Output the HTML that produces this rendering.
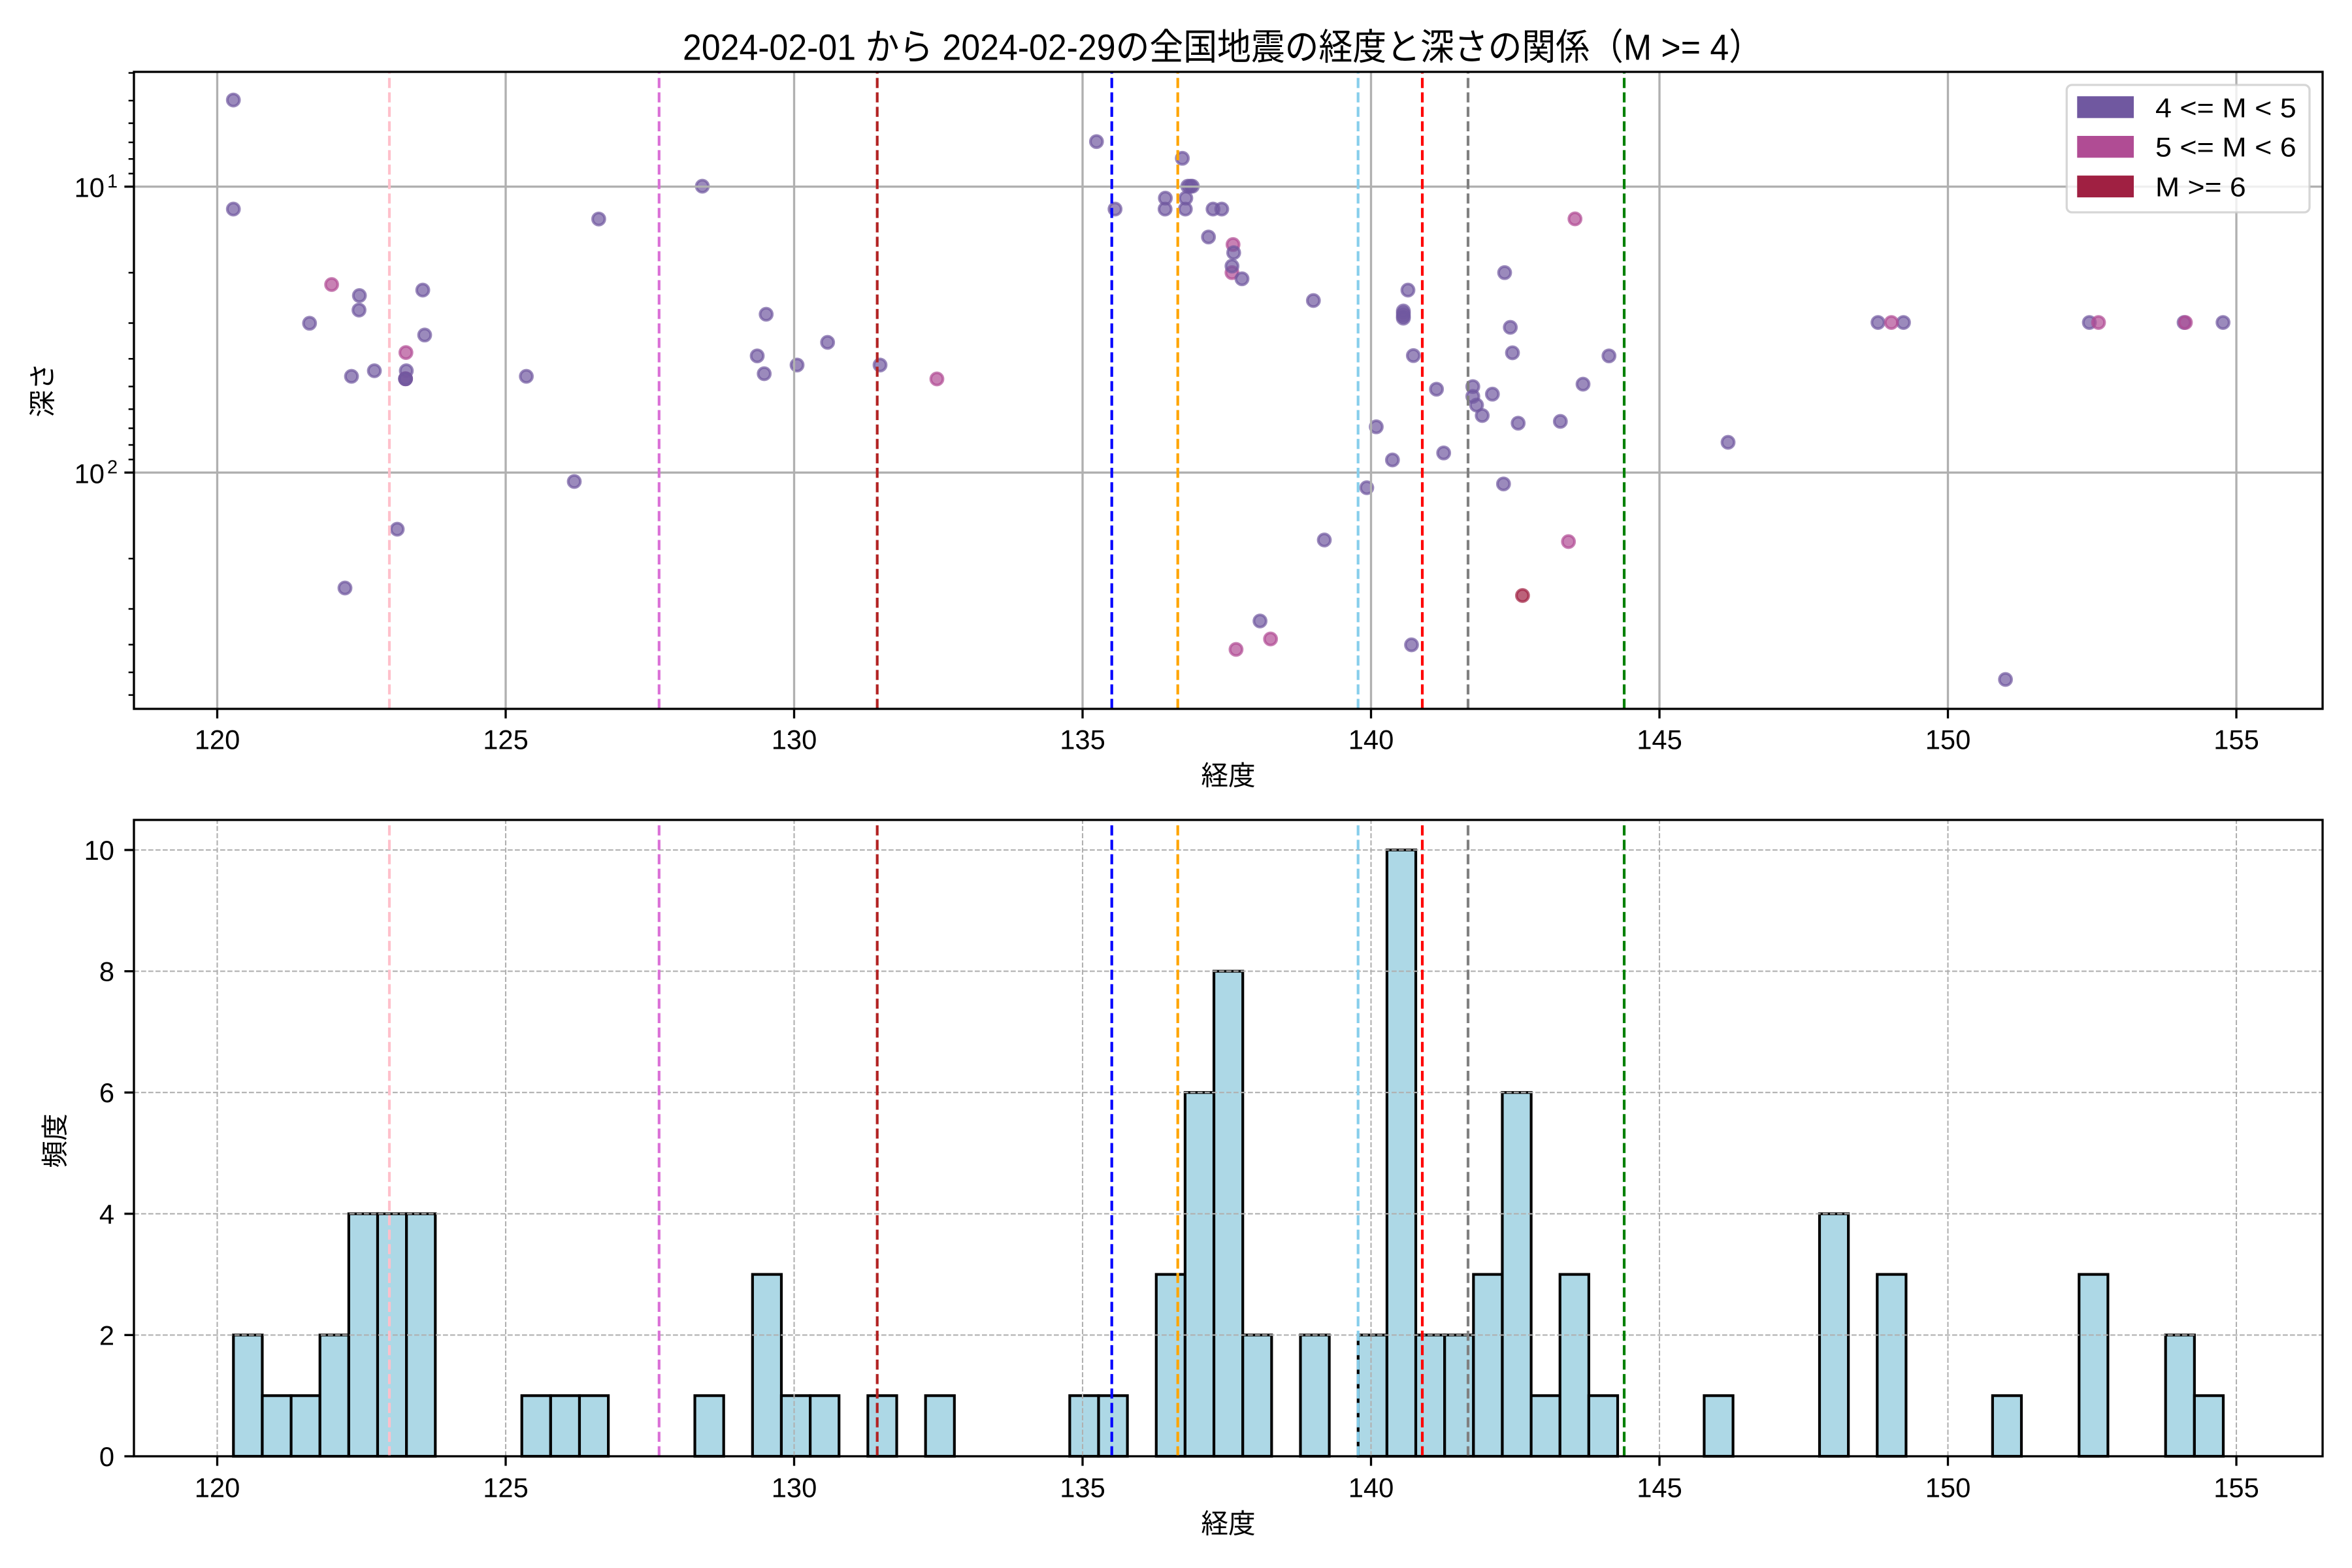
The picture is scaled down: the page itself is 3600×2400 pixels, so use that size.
<!DOCTYPE html>
<html>
<head>
<meta charset="utf-8">
<style>
html,body{margin:0;padding:0;background:#fff;}
svg{display:block;}
text{font-family:"Liberation Sans","Noto Sans CJK JP",sans-serif;fill:#000;}
</style>
</head>
<body>
<svg width="3600" height="2400" viewBox="0 0 3600 2400" xmlns="http://www.w3.org/2000/svg">
<rect x="0" y="0" width="3600" height="2400" fill="#fff"/>

<!-- Title -->
<text x="1045" y="91.7" font-size="56" textLength="1653" lengthAdjust="spacingAndGlyphs">2024-02-01 から 2024-02-29の全国地震の経度と深さの関係（M &gt;= 4）</text>

<!-- ================= TOP AXES ================= -->
<!-- scatter points -->
<g stroke-width="4.17" fill-opacity="0.7" stroke-opacity="0.7">
<g fill="#7058a0" stroke="#7058a0">
<circle cx="357.2" cy="153.1" r="9.3"/>
<circle cx="357.2" cy="320" r="9.3"/>
<circle cx="473.8" cy="494.8" r="9.3"/>
<circle cx="550.1" cy="452.4" r="9.3"/>
<circle cx="549.5" cy="474.6" r="9.3"/>
<circle cx="647.1" cy="444" r="9.3"/>
<circle cx="650" cy="512.8" r="9.3"/>
<circle cx="538" cy="576" r="9.3"/>
<circle cx="573" cy="567.5" r="9.3"/>
<circle cx="621.9" cy="567.5" r="9.3"/>
<circle cx="608" cy="810" r="9.3"/>
<circle cx="528" cy="900" r="9.3"/>
<circle cx="805.6" cy="576" r="9.3"/>
<circle cx="879" cy="737" r="9.3"/>
<circle cx="916.4" cy="335.2" r="9.3"/>
<circle cx="1075" cy="285" r="9.3"/>
<circle cx="1172.7" cy="481" r="9.3"/>
<circle cx="1159" cy="544.7" r="9.3"/>
<circle cx="1169.7" cy="572" r="9.3"/>
<circle cx="1220" cy="558.7" r="9.3"/>
<circle cx="1266.7" cy="524" r="9.3"/>
<circle cx="1347" cy="558.7" r="9.3"/>
</g>
<circle cx="507.6" cy="435.5" r="9.3" fill="#b04c94" stroke="#b04c94"/>
<circle cx="621.3" cy="539.6" r="9.3" fill="#b04c94" stroke="#b04c94"/>
<circle cx="620.7" cy="579.8" r="9.3" fill="#b04c94" stroke="#b04c94"/>
<circle cx="620.7" cy="579.8" r="9.3" fill="#7058a0" stroke="#7058a0"/>
<circle cx="620.7" cy="579.8" r="9.3" fill="#7058a0" stroke="#7058a0"/>
<circle cx="1434" cy="580" r="9.3" fill="#b04c94" stroke="#b04c94"/>

<g fill="#7058a0" stroke="#7058a0">
<circle cx="1678.3" cy="216.7" r="9.3"/>
<circle cx="1706.7" cy="320" r="9.3"/>
<circle cx="1809.7" cy="242.3" r="9.3"/>
<circle cx="1818" cy="285" r="9.3"/>
<circle cx="1822" cy="285" r="9.3"/>
<circle cx="1825" cy="285" r="9.3"/>
<circle cx="1783.7" cy="303.3" r="9.3"/>
<circle cx="1815" cy="303.3" r="9.3"/>
<circle cx="1783.3" cy="320" r="9.3"/>
<circle cx="1814.3" cy="320" r="9.3"/>
<circle cx="1856.7" cy="320" r="9.3"/>
<circle cx="1870" cy="320" r="9.3"/>
<circle cx="1849.7" cy="362.7" r="9.3"/>
</g>
<circle cx="1887.3" cy="374.3" r="9.3" fill="#b04c94" stroke="#b04c94"/>
<circle cx="1885.7" cy="417.3" r="9.3" fill="#b04c94" stroke="#b04c94"/>
<g fill="#7058a0" stroke="#7058a0">
<circle cx="1888.3" cy="386.7" r="9.3"/>
<circle cx="1885.7" cy="407.3" r="9.3"/>
<circle cx="1901" cy="426.7" r="9.3"/>
<circle cx="2010.3" cy="460" r="9.3"/>
<circle cx="2155" cy="444" r="9.3"/>
<circle cx="2148" cy="476" r="9.3"/>
<circle cx="2148" cy="480" r="9.3"/>
<circle cx="2148" cy="484" r="9.3"/>
<circle cx="2148" cy="487" r="9.3"/>
<circle cx="2163.3" cy="544.3" r="9.3"/>
<circle cx="2106.5" cy="653.3" r="9.3"/>
<circle cx="2131.3" cy="704" r="9.3"/>
<circle cx="2092" cy="746.5" r="9.3"/>
<circle cx="2027" cy="826.5" r="9.3"/>
<circle cx="1928.6" cy="950.5" r="9.3"/>
<circle cx="2160.5" cy="987" r="9.3"/>
<circle cx="2303" cy="417.3" r="9.3"/>
<circle cx="2311.7" cy="501" r="9.3"/>
<circle cx="2315" cy="540" r="9.3"/>
<circle cx="2462.7" cy="544.7" r="9.3"/>
<circle cx="2198.7" cy="595.7" r="9.3"/>
<circle cx="2254.3" cy="591.7" r="9.3"/>
<circle cx="2254.3" cy="606.7" r="9.3"/>
<circle cx="2260" cy="620" r="9.3"/>
<circle cx="2268.7" cy="636" r="9.3"/>
<circle cx="2284.3" cy="603.3" r="9.3"/>
<circle cx="2323.7" cy="647.7" r="9.3"/>
<circle cx="2388.3" cy="645" r="9.3"/>
<circle cx="2423" cy="588" r="9.3"/>
<circle cx="2209.7" cy="693.3" r="9.3"/>
<circle cx="2301.3" cy="740.7" r="9.3"/>
<circle cx="2645" cy="677" r="9.3"/>
<circle cx="2874.5" cy="493.6" r="9.3"/>
<circle cx="2913.5" cy="493.6" r="9.3"/>
<circle cx="3069.6" cy="1040" r="9.3"/>
<circle cx="3198" cy="493.6" r="9.3"/>
<circle cx="3343" cy="493.6" r="9.3"/>
<circle cx="3402.6" cy="493.6" r="9.3"/>
</g>
<g fill="#b04c94" stroke="#b04c94">
<circle cx="1891.9" cy="994" r="9.3"/>
<circle cx="1944.7" cy="978" r="9.3"/>
<circle cx="2400.7" cy="829" r="9.3"/>
<circle cx="2410.7" cy="335" r="9.3"/>
<circle cx="2895" cy="493.6" r="9.3"/>
<circle cx="3212" cy="493.6" r="9.3"/>
<circle cx="3345" cy="493.6" r="9.3"/>
</g>
<circle cx="2330.4" cy="911.5" r="9.3" fill="#a02042" stroke="#a02042"/>
</g>

<!-- top grid -->
<g stroke="#b0b0b0" stroke-width="3.33">
<line x1="332.5" y1="110" x2="332.5" y2="1085"/>
<line x1="774" y1="110" x2="774" y2="1085"/>
<line x1="1215.5" y1="110" x2="1215.5" y2="1085"/>
<line x1="1657" y1="110" x2="1657" y2="1085"/>
<line x1="2098.5" y1="110" x2="2098.5" y2="1085"/>
<line x1="2540" y1="110" x2="2540" y2="1085"/>
<line x1="2981.5" y1="110" x2="2981.5" y2="1085"/>
<line x1="3423" y1="110" x2="3423" y2="1085"/>
<line x1="205" y1="285.7" x2="3555" y2="285.7"/>
<line x1="205" y1="723.3" x2="3555" y2="723.3"/>
</g>

<!-- top axvlines -->
<g stroke-width="4.17" stroke-dasharray="15.4 6.7">
<line x1="596" y1="1085" x2="596" y2="110" stroke="#ffc0cb"/>
<line x1="1008.8" y1="1085" x2="1008.8" y2="110" stroke="#da70d6"/>
<line x1="1342.7" y1="1085" x2="1342.7" y2="110" stroke="#b22222"/>
<line x1="1701.7" y1="1085" x2="1701.7" y2="110" stroke="#0000ff"/>
<line x1="1802.7" y1="1085" x2="1802.7" y2="110" stroke="#ffa500"/>
<line x1="2078.7" y1="1085" x2="2078.7" y2="110" stroke="#87ceeb"/>
<line x1="2177" y1="1085" x2="2177" y2="110" stroke="#ff0000"/>
<line x1="2247" y1="1085" x2="2247" y2="110" stroke="#808080"/>
<line x1="2486" y1="1085" x2="2486" y2="110" stroke="#008000"/>
</g>

<!-- top spines -->
<rect x="205" y="110" width="3350" height="975" fill="none" stroke="#000" stroke-width="3.33"/>

<!-- top x ticks -->
<g stroke="#000" stroke-width="3.33">
<line x1="332.5" y1="1085" x2="332.5" y2="1099.6"/>
<line x1="774" y1="1085" x2="774" y2="1099.6"/>
<line x1="1215.5" y1="1085" x2="1215.5" y2="1099.6"/>
<line x1="1657" y1="1085" x2="1657" y2="1099.6"/>
<line x1="2098.5" y1="1085" x2="2098.5" y2="1099.6"/>
<line x1="2540" y1="1085" x2="2540" y2="1099.6"/>
<line x1="2981.5" y1="1085" x2="2981.5" y2="1099.6"/>
<line x1="3423" y1="1085" x2="3423" y2="1099.6"/>
<line x1="205" y1="285.7" x2="190.4" y2="285.7"/>
<line x1="205" y1="723.3" x2="190.4" y2="723.3"/>
</g>
<g stroke="#000" stroke-width="2.5">
<line x1="205" y1="111.6" x2="196.7" y2="111.6"/>
<line x1="205" y1="154" x2="196.7" y2="154"/>
<line x1="205" y1="188.6" x2="196.7" y2="188.6"/>
<line x1="205" y1="217.9" x2="196.7" y2="217.9"/>
<line x1="205" y1="243.3" x2="196.7" y2="243.3"/>
<line x1="205" y1="265.7" x2="196.7" y2="265.7"/>
<line x1="205" y1="417.4" x2="196.7" y2="417.4"/>
<line x1="205" y1="494.5" x2="196.7" y2="494.5"/>
<line x1="205" y1="549.2" x2="196.7" y2="549.2"/>
<line x1="205" y1="591.6" x2="196.7" y2="591.6"/>
<line x1="205" y1="626.3" x2="196.7" y2="626.3"/>
<line x1="205" y1="655.5" x2="196.7" y2="655.5"/>
<line x1="205" y1="681" x2="196.7" y2="681"/>
<line x1="205" y1="703.3" x2="196.7" y2="703.3"/>
<line x1="205" y1="855" x2="196.7" y2="855"/>
<line x1="205" y1="932" x2="196.7" y2="932"/>
<line x1="205" y1="986.7" x2="196.7" y2="986.7"/>
<line x1="205" y1="1029.1" x2="196.7" y2="1029.1"/>
<line x1="205" y1="1063.8" x2="196.7" y2="1063.8"/>
</g>

<!-- top tick labels -->
<g font-size="41.7" text-anchor="middle">
<text x="332.5" y="1146.7">120</text>
<text x="774" y="1146.7">125</text>
<text x="1215.5" y="1146.7">130</text>
<text x="1657" y="1146.7">135</text>
<text x="2098.5" y="1146.7">140</text>
<text x="2540" y="1146.7">145</text>
<text x="2981.5" y="1146.7">150</text>
<text x="3423" y="1146.7">155</text>
</g>
<text x="160" y="301.7" font-size="41.7" text-anchor="end">10</text>
<text x="164" y="287" font-size="29">1</text>
<text x="160" y="739.3" font-size="41.7" text-anchor="end">10</text>
<text x="164" y="724.6" font-size="29">2</text>

<text x="1880" y="1187" font-size="41.7" text-anchor="middle" dominant-baseline="central">経度</text>
<text transform="translate(65,597) rotate(-90)" font-size="41.7" text-anchor="middle" dominant-baseline="central">深さ</text>

<!-- legend -->
<rect x="3163.3" y="130" width="371.7" height="195" rx="8" ry="8" fill="#fff" fill-opacity="0.8" stroke="#cccccc" stroke-opacity="0.8" stroke-width="3.33"/>
<rect x="3179.3" y="147.3" width="86.7" height="33.4" fill="#7058a0"/>
<rect x="3179.3" y="208" width="86.7" height="33.4" fill="#b04c94"/>
<rect x="3179.3" y="268.7" width="86.7" height="33.4" fill="#a02042"/>
<g font-size="41.7">
<text x="3299" y="179.3" textLength="215.7" lengthAdjust="spacingAndGlyphs">4 &lt;= M &lt; 5</text>
<text x="3299" y="239.5" textLength="215.7" lengthAdjust="spacingAndGlyphs">5 &lt;= M &lt; 6</text>
<text x="3299" y="300.3" textLength="138.7" lengthAdjust="spacingAndGlyphs">M &gt;= 6</text>
</g>

<!-- ================= BOTTOM AXES ================= -->
<!-- bars -->
<g fill="#add8e6" stroke="#000" stroke-width="4.17">
<rect x="357.3" y="2043.4" width="44.14" height="185.6"/>
<rect x="401.44" y="2136.2" width="44.14" height="92.8"/>
<rect x="445.58" y="2136.2" width="44.14" height="92.8"/>
<rect x="489.72" y="2043.4" width="44.14" height="185.6"/>
<rect x="533.86" y="1857.8" width="44.14" height="371.2"/>
<rect x="578" y="1857.8" width="44.14" height="371.2"/>
<rect x="622.14" y="1857.8" width="44.14" height="371.2"/>
<rect x="798.7" y="2136.2" width="44.14" height="92.8"/>
<rect x="842.84" y="2136.2" width="44.14" height="92.8"/>
<rect x="886.98" y="2136.2" width="44.14" height="92.8"/>
<rect x="1063.54" y="2136.2" width="44.14" height="92.8"/>
<rect x="1151.82" y="1950.6" width="44.14" height="278.4"/>
<rect x="1195.96" y="2136.2" width="44.14" height="92.8"/>
<rect x="1240.1" y="2136.2" width="44.14" height="92.8"/>
<rect x="1328.38" y="2136.2" width="44.14" height="92.8"/>
<rect x="1416.66" y="2136.2" width="44.14" height="92.8"/>
<rect x="1637.36" y="2136.2" width="44.14" height="92.8"/>
<rect x="1681.5" y="2136.2" width="44.14" height="92.8"/>
<rect x="1769.78" y="1950.6" width="44.14" height="278.4"/>
<rect x="1813.92" y="1672.2" width="44.14" height="556.8"/>
<rect x="1858.06" y="1486.6" width="44.14" height="742.4"/>
<rect x="1902.2" y="2043.4" width="44.14" height="185.6"/>
<rect x="1990.48" y="2043.4" width="44.14" height="185.6"/>
<rect x="2078.76" y="2043.4" width="44.14" height="185.6"/>
<rect x="2122.9" y="1301" width="44.14" height="928"/>
<rect x="2167.04" y="2043.4" width="44.14" height="185.6"/>
<rect x="2211.18" y="2043.4" width="44.14" height="185.6"/>
<rect x="2255.32" y="1950.6" width="44.14" height="278.4"/>
<rect x="2299.46" y="1672.2" width="44.14" height="556.8"/>
<rect x="2343.6" y="2136.2" width="44.14" height="92.8"/>
<rect x="2387.74" y="1950.6" width="44.14" height="278.4"/>
<rect x="2431.88" y="2136.2" width="44.14" height="92.8"/>
<rect x="2608.44" y="2136.2" width="44.14" height="92.8"/>
<rect x="2785" y="1857.8" width="44.14" height="371.2"/>
<rect x="2873.28" y="1950.6" width="44.14" height="278.4"/>
<rect x="3049.84" y="2136.2" width="44.14" height="92.8"/>
<rect x="3182.26" y="1950.6" width="44.14" height="278.4"/>
<rect x="3314.68" y="2043.4" width="44.14" height="185.6"/>
<rect x="3358.82" y="2136.2" width="44.14" height="92.8"/>
</g>

<!-- bottom grid -->
<g stroke="#b0b0b0" stroke-width="2.08" stroke-dasharray="7.7 3.3">
<line x1="332.5" y1="2229" x2="332.5" y2="1255"/>
<line x1="774" y1="2229" x2="774" y2="1255"/>
<line x1="1215.5" y1="2229" x2="1215.5" y2="1255"/>
<line x1="1657" y1="2229" x2="1657" y2="1255"/>
<line x1="2098.5" y1="2229" x2="2098.5" y2="1255"/>
<line x1="2540" y1="2229" x2="2540" y2="1255"/>
<line x1="2981.5" y1="2229" x2="2981.5" y2="1255"/>
<line x1="3423" y1="2229" x2="3423" y2="1255"/>
<line x1="205" y1="2043.4" x2="3555" y2="2043.4"/>
<line x1="205" y1="1857.8" x2="3555" y2="1857.8"/>
<line x1="205" y1="1672.2" x2="3555" y2="1672.2"/>
<line x1="205" y1="1486.6" x2="3555" y2="1486.6"/>
<line x1="205" y1="1301" x2="3555" y2="1301"/>
</g>

<!-- bottom axvlines -->
<g stroke-width="4.17" stroke-dasharray="15.4 6.7">
<line x1="596" y1="2229" x2="596" y2="1255" stroke="#ffc0cb"/>
<line x1="1008.8" y1="2229" x2="1008.8" y2="1255" stroke="#da70d6"/>
<line x1="1342.7" y1="2229" x2="1342.7" y2="1255" stroke="#b22222"/>
<line x1="1701.7" y1="2229" x2="1701.7" y2="1255" stroke="#0000ff"/>
<line x1="1802.7" y1="2229" x2="1802.7" y2="1255" stroke="#ffa500"/>
<line x1="2078.7" y1="2229" x2="2078.7" y2="1255" stroke="#87ceeb"/>
<line x1="2177" y1="2229" x2="2177" y2="1255" stroke="#ff0000"/>
<line x1="2247" y1="2229" x2="2247" y2="1255" stroke="#808080"/>
<line x1="2486" y1="2229" x2="2486" y2="1255" stroke="#008000"/>
</g>

<!-- bottom spines -->
<rect x="205" y="1255" width="3350" height="974" fill="none" stroke="#000" stroke-width="3.33"/>

<!-- bottom ticks -->
<g stroke="#000" stroke-width="3.33">
<line x1="332.5" y1="2229" x2="332.5" y2="2243.6"/>
<line x1="774" y1="2229" x2="774" y2="2243.6"/>
<line x1="1215.5" y1="2229" x2="1215.5" y2="2243.6"/>
<line x1="1657" y1="2229" x2="1657" y2="2243.6"/>
<line x1="2098.5" y1="2229" x2="2098.5" y2="2243.6"/>
<line x1="2540" y1="2229" x2="2540" y2="2243.6"/>
<line x1="2981.5" y1="2229" x2="2981.5" y2="2243.6"/>
<line x1="3423" y1="2229" x2="3423" y2="2243.6"/>
<line x1="205" y1="2229" x2="190.4" y2="2229"/>
<line x1="205" y1="2043.4" x2="190.4" y2="2043.4"/>
<line x1="205" y1="1857.8" x2="190.4" y2="1857.8"/>
<line x1="205" y1="1672.2" x2="190.4" y2="1672.2"/>
<line x1="205" y1="1486.6" x2="190.4" y2="1486.6"/>
<line x1="205" y1="1301" x2="190.4" y2="1301"/>
</g>

<g font-size="41.7" text-anchor="middle">
<text x="332.5" y="2291.7">120</text>
<text x="774" y="2291.7">125</text>
<text x="1215.5" y="2291.7">130</text>
<text x="1657" y="2291.7">135</text>
<text x="2098.5" y="2291.7">140</text>
<text x="2540" y="2291.7">145</text>
<text x="2981.5" y="2291.7">150</text>
<text x="3423" y="2291.7">155</text>
</g>
<g font-size="41.7" text-anchor="end">
<text x="175" y="2244">0</text>
<text x="175" y="2058.4">2</text>
<text x="175" y="1872.8">4</text>
<text x="175" y="1687.2">6</text>
<text x="175" y="1501.6">8</text>
<text x="175" y="1316">10</text>
</g>

<text x="1880" y="2332" font-size="41.7" text-anchor="middle" dominant-baseline="central">経度</text>
<text transform="translate(84,1746) rotate(-90)" font-size="41.7" text-anchor="middle" dominant-baseline="central">頻度</text>
</svg>
</body>
</html>
